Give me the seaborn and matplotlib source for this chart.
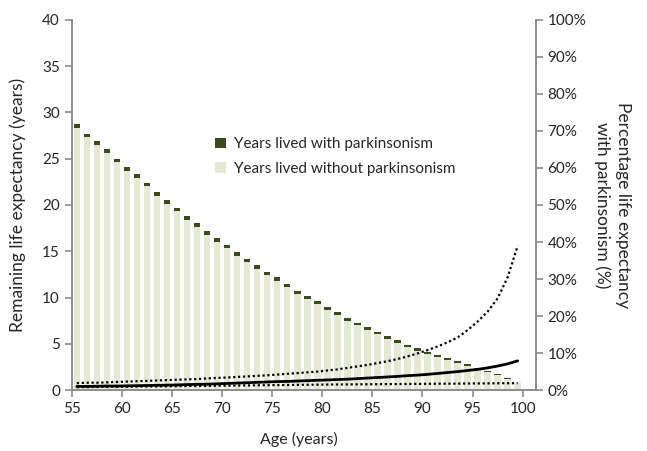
import matplotlib
matplotlib.use("Agg")
import matplotlib.pyplot as plt
from matplotlib.patches import Patch
from matplotlib.ticker import FuncFormatter
import numpy as np
import pandas as pd
import seaborn as sns

# ages 55..99, one bar per year of age
ages = list(range(55, 100))

# remaining life expectancy split (years)
years_without = [28.3, 27.3, 26.5, 25.6, 24.6, 23.7, 22.9, 22.0, 21.0, 20.1,
                 19.3, 18.4, 17.6, 16.8, 16.0, 15.3, 14.5, 13.8, 13.1, 12.4,
                 11.8, 11.1, 10.4, 9.85, 9.25, 8.66, 8.07, 7.48, 6.99, 6.5,
                 6.01, 5.52, 5.13, 4.64, 4.25, 3.86, 3.58, 3.29, 2.91, 2.62,
                 2.24, 1.96, 1.58, 1.2, 0.72]
years_with = [0.42, 0.42, 0.42, 0.42, 0.42, 0.41, 0.41, 0.41, 0.41, 0.40,
              0.40, 0.40, 0.40, 0.39, 0.39, 0.39, 0.38, 0.38, 0.38, 0.37,
              0.37, 0.36, 0.36, 0.35, 0.35, 0.34, 0.33, 0.32, 0.31, 0.30,
              0.29, 0.28, 0.27, 0.26, 0.25, 0.24, 0.22, 0.21, 0.19, 0.18,
              0.16, 0.14, 0.12, 0.10, 0.08]

# percentage of life expectancy with parkinsonism, with upper/lower bounds
pct_mid = [1.0, 1.0, 1.05, 1.1, 1.1, 1.15, 1.2, 1.25, 1.3, 1.35,
           1.4, 1.5, 1.55, 1.6, 1.7, 1.8, 1.9, 2.0, 2.1, 2.2,
           2.3, 2.35, 2.45, 2.55, 2.65, 2.75, 2.85, 2.95, 3.1, 3.25,
           3.4, 3.55, 3.7, 3.9, 4.05, 4.25, 4.5, 4.75, 5.0, 5.3,
           5.6, 6.0, 6.5, 7.1, 7.9]
pct_upper = [1.9, 2.0, 2.0, 2.1, 2.2, 2.3, 2.4, 2.5, 2.6, 2.7,
             2.8, 2.9, 3.0, 3.15, 3.3, 3.4, 3.55, 3.7, 3.85, 4.0,
             4.2, 4.4, 4.6, 4.8, 5.0, 5.3, 5.6, 6.0, 6.4, 6.8,
             7.3, 7.8, 8.4, 9.1, 9.9, 10.8, 11.8, 12.9, 14.2, 16.2,
             18.5, 21.2, 24.8, 30.5, 39.0]
pct_lower = [0.8, 0.82, 0.85, 0.87, 0.9, 0.92, 0.95, 0.98, 1.0, 1.03,
             1.06, 1.09, 1.12, 1.15, 1.18, 1.21, 1.24, 1.27, 1.3, 1.33,
             1.36, 1.39, 1.42, 1.45, 1.47, 1.5, 1.52, 1.54, 1.56, 1.58,
             1.6, 1.62, 1.64, 1.66, 1.68, 1.7, 1.72, 1.74, 1.76, 1.78,
             1.8, 1.82, 1.84, 1.86, 1.88]

light = "#e4e9d4"
dark = "#3b4a1c"
spine_col = "#8c8c8c"
text_col = "#262626"

sns.set_theme(style="ticks")
plt.rcParams['font.family'] = ['Lato', 'DejaVu Sans']

df = pd.DataFrame({
    "pos": np.array(ages) + 0.5,
    "without": years_without,
    "with": years_with,
    "mid": pct_mid,
    "upper": pct_upper,
    "lower": pct_lower,
})
df["total"] = df["without"] + df["with"]

fig, ax = plt.subplots(figsize=(6.47, 4.51), dpi=100)
fig.subplots_adjust(left=0.111, right=0.828, bottom=0.135, top=0.956)

# stacked bars: total in dark, then the without part in light on top of it
sns.barplot(data=df, x="pos", y="total", native_scale=True, color=dark,
            saturation=1, width=0.65, errorbar=None, ax=ax, linewidth=0)
sns.barplot(data=df, x="pos", y="without", native_scale=True, color=light,
            saturation=1, width=0.65, errorbar=None, ax=ax, linewidth=0)

ax.set_xlim(55, 101.3)
ax.set_ylim(0, 40)
ax.set_xticks(range(55, 101, 5))
ax.set_xticklabels([str(a) for a in range(55, 101, 5)])
ax.set_yticks(range(0, 41, 5))
ax.set_xlabel("Age (years)", fontsize=11.5, color=text_col)
ax.xaxis.set_label_coords(0.49, -0.112)
ax.set_ylabel("Remaining life expectancy (years)", fontsize=12.5, color=text_col,
              va="center", ha="center")
ax.yaxis.set_label_coords(-0.116, 0.5)

ax2 = ax.twinx()
sns.lineplot(data=df, x="pos", y="upper", ax=ax2, color="black",
             linestyle=(0, (1, 1.2)), linewidth=1.6)
sns.lineplot(data=df, x="pos", y="lower", ax=ax2, color="black",
             linestyle=(0, (1, 1.2)), linewidth=1.6)
sns.lineplot(data=df, x="pos", y="mid", ax=ax2, color="black", linewidth=2)
ax2.set_ylim(0, 100)
ax2.set_yticks(range(0, 101, 10))
ax2.yaxis.set_major_formatter(FuncFormatter(lambda v, p: f"{v:.0f}%"))
ax2.set_ylabel("Percentage life expectancy\nwith parkinsonism (%)", fontsize=12.5,
               color=text_col, rotation=270, va="center", ha="center",
               linespacing=1.3)
ax2.yaxis.set_label_coords(1.165, 0.5)
ax2.yaxis.label.set_rotation_mode("anchor")
ax.yaxis.label.set_rotation_mode("anchor")

for a in (ax, ax2):
    a.spines["top"].set_visible(False)
    for s in ("left", "right", "bottom"):
        a.spines[s].set_color(spine_col)
        a.spines[s].set_linewidth(1.2)
    a.tick_params(colors=spine_col, labelcolor=text_col, labelsize=11,
                  length=5, width=1.2)

handles = [Patch(facecolor=dark, edgecolor="none"),
           Patch(facecolor=light, edgecolor="none")]
ax2.legend(handles, ["Years lived with parkinsonism",
                     "Years lived without parkinsonism"],
           loc="upper left", bbox_to_anchor=(0.28, 0.72), frameon=False,
           fontsize=11, handlelength=0.7, handleheight=0.7,
           handletextpad=0.5, labelspacing=0.7)

fig.savefig("out.png", dpi=100)
